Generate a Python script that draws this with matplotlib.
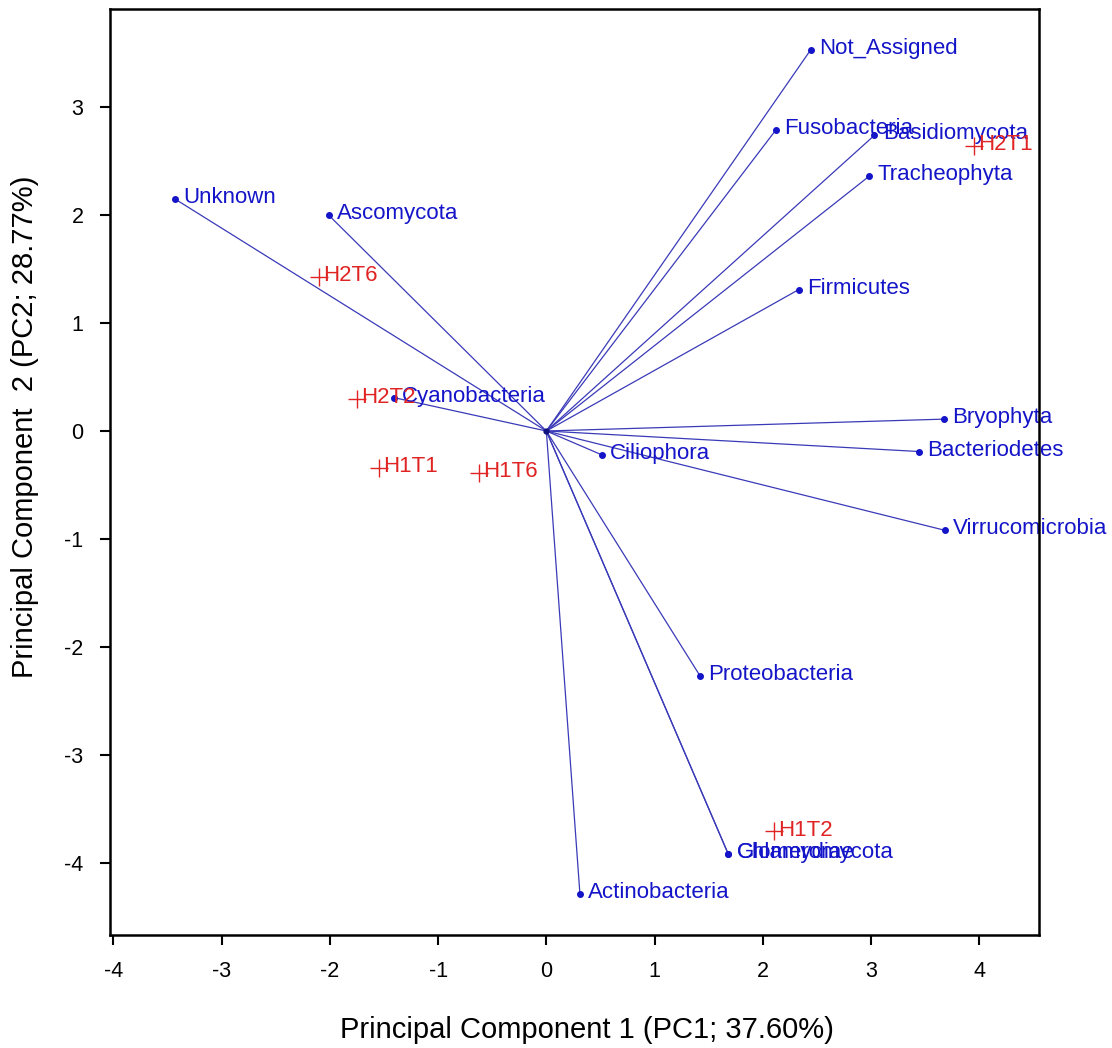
import numpy as np
import matplotlib.pyplot as plt
import matplotlib as mpl

mpl.rcParams['font.family'] = ['Liberation Sans', 'DejaVu Sans']
mpl.rcParams['axes.unicode_minus'] = False

# variable loadings (blue arrows)
var_names = ['Not_Assigned', 'Fusobacteria', 'Basidiomycota', 'Tracheophyta', 'Firmicutes',
             'Unknown', 'Ascomycota', 'Cyanobacteria', 'Ciliophora', 'Bryophyta',
             'Bacteriodetes', 'Virrucomicrobia', 'Proteobacteria', 'Chlamydiae',
             'Glomeromycota', 'Actinobacteria']
var_pc1 = [2.44, 2.12, 3.03, 2.98, 2.33, -3.43, -2.01, -1.41, 0.51, 3.67,
           3.44, 3.68, 1.42, 1.68, 1.68, 0.31]
var_pc2 = [3.53, 2.79, 2.74, 2.36, 1.31, 2.15, 2.00, 0.31, -0.22, 0.11,
           -0.19, -0.92, -2.27, -3.92, -3.92, -4.29]

# sample scores (red crosses)
samp_names = ['H2T1', 'H2T6', 'H2T2', 'H1T1', 'H1T6', 'H1T2']
samp_pc1 = [3.95, -2.10, -1.75, -1.55, -0.62, 2.10]
samp_pc2 = [2.64, 1.43, 0.30, -0.34, -0.39, -3.71]

blue = '#1414c8'
red = '#e02424'

fig = plt.figure(figsize=(11.12, 10.48), dpi=100)
ax = fig.add_axes([0.0989, 0.1078, 0.8355, 0.8836])

for x, y in zip(var_pc1, var_pc2):
    ax.plot([0, x], [0, y], color='#3a3ab8', lw=0.9, zorder=1)
ax.plot(var_pc1, var_pc2, 'o', color=blue, ms=4, zorder=2)
ax.plot([0], [0], 'o', color='#101080', ms=3.5, zorder=2)
for name, x, y in zip(var_names, var_pc1, var_pc2):
    ax.annotate(name, (x, y), xytext=(6, 1), textcoords='offset points',
                color=blue, fontsize=16, va='center', ha='left',
                annotation_clip=False, clip_on=False, zorder=3)

ax.plot(samp_pc1, samp_pc2, '+', color=red, ms=13, mew=1.0, zorder=3)
for name, x, y in zip(samp_names, samp_pc1, samp_pc2):
    ax.annotate(name, (x, y), xytext=(3, 1), textcoords='offset points',
                color=red, fontsize=16, va='center', ha='left',
                annotation_clip=False, clip_on=False, zorder=3)

ax.set_xlim(-4.03, 4.55)
ax.set_ylim(-4.67, 3.91)
ax.set_xticks(np.arange(-4, 5, 1))
ax.set_yticks(np.arange(-4, 4, 1))
ax.tick_params(direction='out', length=7, width=1.5, labelsize=15.5, pad=12)
for s in ax.spines.values():
    s.set_linewidth(1.8)
    s.set_zorder(5)

fig.text(587 / 1112, 1 - 1030 / 1048, 'Principal Component 1 (PC1; 37.60%)',
         fontsize=21, ha='center', va='center')
fig.text(25 / 1112, 1 - 427 / 1048, 'Principal Component  2 (PC2; 28.77%)',
         fontsize=21, ha='center', va='center', rotation=90)

fig.savefig('out.png', dpi=100)
